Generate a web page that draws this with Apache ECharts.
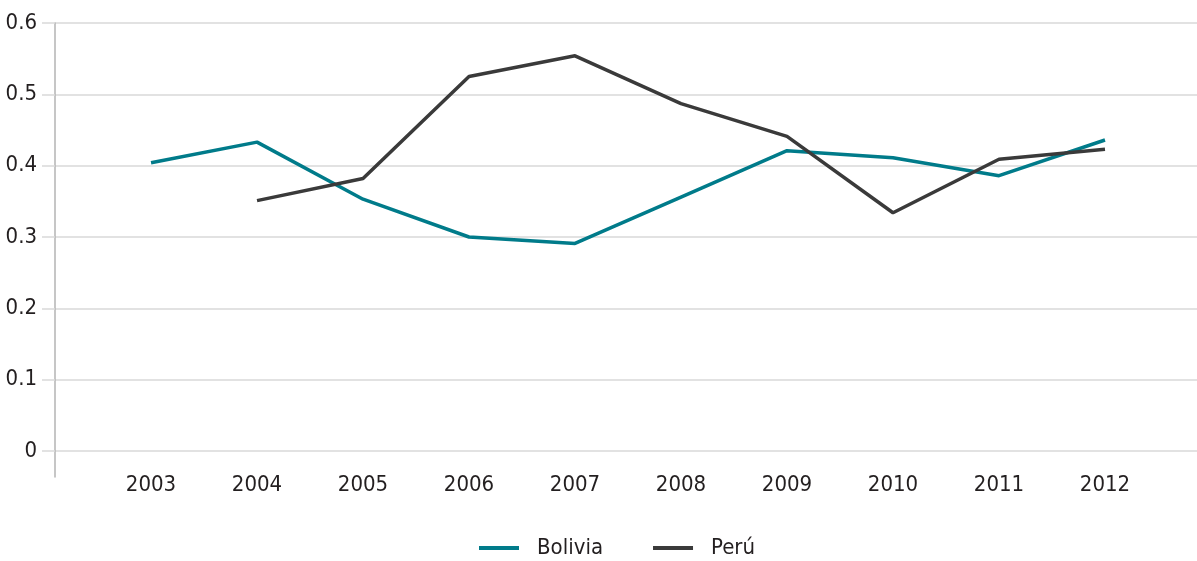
<!DOCTYPE html>
<html>
<head>
<meta charset="utf-8">
<script src="https://cdn.jsdelivr.net/npm/echarts@6/dist/echarts.min.js"></script>
<style>
html,body{margin:0;padding:0;background:#fff;}
#c{width:1197px;height:561px;}
</style>
</head>
<body>
<div id="c"></div>
<script>
var years = [2003, 2004, 2005, 2006, 2007, 2008, 2009, 2010, 2011, 2012];
var bolivia = [0.404, 0.433, 0.353, 0.300, 0.291, 0.356, 0.421, 0.411, 0.386, 0.436];
var peru = [null, 0.351, 0.382, 0.525, 0.554, 0.487, 0.441, 0.334, 0.409, 0.423];
var yTicks = [0, 0.1, 0.2, 0.3, 0.4, 0.5, 0.6];

var FONT = '"DejaVu Sans Condensed", "Liberation Sans Narrow", "Roboto", sans-serif';
var TXT = '#231f20';
var GRIDC = '#d9d9d9';

function pairs(vals) {
  return years.map(function (y, i) { return [y, vals[i]]; });
}

var chart = echarts.init(document.getElementById('c'), null, {renderer: 'canvas'});
chart.setOption({
  animation: false,
  backgroundColor: '#fff',
  textStyle: {fontFamily: FONT},
  grid: [
    {left: 55, right: 0, top: 23, bottom: 110, containLabel: false},
    {left: 55, right: 0, top: 23, bottom: 84, containLabel: false}
  ],
  xAxis: [
    {
      type: 'value', gridIndex: 0, min: 2002.094, max: 2012.868,
      axisLine: {show: false}, axisTick: {show: false}, splitLine: {show: false},
      axisLabel: {
        customValues: years, margin: 23, color: TXT, fontFamily: FONT, fontSize: 22,
        formatter: function (v) { return String(Math.round(v)); }
      }
    },
    {
      type: 'value', gridIndex: 1, min: 0, max: 1, show: false
    }
  ],
  yAxis: [
    {
      type: 'value', gridIndex: 0, min: 0, max: 0.6, interval: 0.1,
      axisLine: {show: false},
      axisTick: {show: true, length: 13, lineStyle: {color: GRIDC, width: 1.5}},
      splitLine: {show: true, lineStyle: {color: GRIDC, width: 1.5}},
      axisLabel: {
        margin: 18, color: TXT, fontFamily: FONT, fontSize: 22,
        formatter: function (v) { return String(Math.round(v * 10) / 10); }
      }
    },
    {
      type: 'value', gridIndex: 1, min: 0, max: 1,
      axisLine: {show: true, lineStyle: {color: '#b3b3b3', width: 1.5}},
      axisTick: {show: false}, axisLabel: {show: false}, splitLine: {show: false}
    }
  ],
  legend: {
    left: 479, top: 537, padding: 0, itemGap: 50,
    itemWidth: 40, itemHeight: 4, icon: 'rect',
    textStyle: {color: TXT, fontFamily: FONT, fontSize: 22, padding: [0, 0, 0, 13]},
    data: ['Bolivia', 'Perú']
  },
  series: [
    {
      name: 'Bolivia', type: 'line', xAxisIndex: 0, yAxisIndex: 0,
      data: pairs(bolivia), showSymbol: false, symbol: 'none',
      lineStyle: {color: '#007b8a', width: 3.5}, itemStyle: {color: '#007b8a'},
      connectNulls: false
    },
    {
      name: 'Perú', type: 'line', xAxisIndex: 0, yAxisIndex: 0,
      data: pairs(peru), showSymbol: false, symbol: 'none',
      lineStyle: {color: '#3a3a3a', width: 3.5}, itemStyle: {color: '#3a3a3a'},
      connectNulls: false
    }
  ]
});
</script>
</body>
</html>
